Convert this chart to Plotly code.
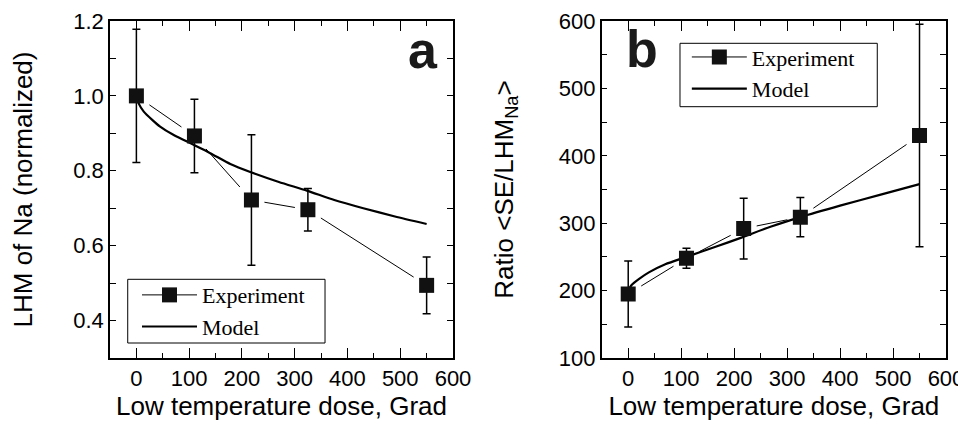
import plotly.graph_objects as go
from plotly.subplots import make_subplots

# panel a: normalized LHM of Na
dose = [0, 110, 218, 325, 550]
lhm_exp = [1.0, 0.893, 0.722, 0.696, 0.494]
lhm_err = [0.178, 0.098, 0.174, 0.057, 0.076]
lhm_model_x = [0, 5, 14, 30, 45, 70, 96, 140, 178, 217, 270, 323, 375, 430, 490, 550]
lhm_model_y = [1.0, 0.978, 0.958, 0.936, 0.918, 0.896, 0.878, 0.847, 0.818, 0.796,
               0.77, 0.747, 0.722, 0.700, 0.678, 0.658]

# panel b: ratio <SE/LHM_Na>
ratio_exp = [195, 248, 292, 309, 430]
ratio_err = [49, 15, 45, 29, 165]
ratio_model_x = [0, 6, 20, 39, 70, 110, 165, 215, 270, 325, 400, 475, 550]
ratio_model_y = [200, 208, 217, 227, 239, 250, 265, 279, 295, 309, 326, 342, 358]

fig = make_subplots(rows=1, cols=2)


def add_panel(col, x, y, err, mx, my, legend):
    # thin connecting line (legend entry uses it)
    fig.add_trace(go.Scatter(
        x=x, y=y, mode="lines+markers", name="Experiment", legend=legend,
        line=dict(color="black", width=1),
        marker=dict(symbol="square", size=15, color="#111"),
    ), row=1, col=col)
    # white squares leave a small gap around the markers
    fig.add_trace(go.Scatter(
        x=x, y=y, mode="markers", showlegend=False, hoverinfo="skip",
        marker=dict(symbol="square", size=26, color="white"),
    ), row=1, col=col)
    fig.add_trace(go.Scatter(
        x=mx, y=my, mode="lines", name="Model", legend=legend,
        line=dict(color="black", width=2.2, shape="spline", smoothing=0.6),
    ), row=1, col=col)
    fig.add_trace(go.Scatter(
        x=x, y=y, mode="markers", showlegend=False,
        marker=dict(symbol="square", size=15, color="#111"),
        error_y=dict(type="data", array=err, color="black", thickness=1.5, width=4),
    ), row=1, col=col)


add_panel(1, dose, lhm_exp, lhm_err, lhm_model_x, lhm_model_y, "legend")
add_panel(2, dose, ratio_exp, ratio_err, ratio_model_x, ratio_model_y, "legend2")

tick_font = dict(family="Liberation Sans, Arial", size=22, color="black")
title_font = dict(family="Liberation Sans, Arial", size=26, color="black")
axis_common = dict(
    showline=True, linecolor="black", linewidth=1.5, mirror="ticks",
    ticks="inside", tickcolor="black", showgrid=False, zeroline=False,
    tickfont=tick_font, automargin=False,
)

fig.update_xaxes(
    range=[-50, 600], dtick=100, ticklen=10, tickwidth=1.2,
    minor=dict(ticks="inside", dtick=50, ticklen=5, tickcolor="black"),
    title=dict(text="Low temperature dose, Grad", font=title_font, standoff=2),
    **axis_common,
)
fig.update_xaxes(domain=[0.0, 0.4103], row=1, col=1)
fig.update_xaxes(domain=[0.5882, 1.0], row=1, col=2)

fig.update_yaxes(
    range=[0.3, 1.2], dtick=0.2, tickformat=".1f", ticklen=6, tickwidth=1.2,
    minor=dict(ticks="inside", dtick=0.1, ticklen=6, tickcolor="black"),
    title=dict(text="LHM of Na (normalized)", font=title_font, standoff=40),
    row=1, col=1, **axis_common,
)
fig.update_yaxes(
    range=[100, 600], dtick=100, ticklen=6, tickwidth=1.2,
    minor=dict(ticks="inside", dtick=50, ticklen=6, tickcolor="black"),
    title=dict(text="Ratio &lt;SE/LHM<sub>Na</sub>&gt;", font=title_font, standoff=38),
    row=1, col=2, **axis_common,
)

# legends without their own frame; the frame is drawn as a shape so it can be sized
legend_style = dict(
    bgcolor="rgba(0,0,0,0)", borderwidth=0,
    font=dict(family="Liberation Serif, Times New Roman", size=22, color="black"),
    itemwidth=55, tracegroupgap=0, xanchor="left", yanchor="top",
)
fig.update_layout(
    legend=dict(x=0.0323, y=0.249, **legend_style),
    legend2=dict(x=0.690, y=0.955, **legend_style),
)
for x0, x1, y0, y1 in [(0.0212, 0.2572, 0.0445, 0.2335), (0.6818, 0.9178, 0.7457, 0.9338)]:
    fig.add_shape(type="rect", xref="paper", yref="paper", x0=x0, x1=x1, y0=y0, y1=y1,
                  line=dict(color="black", width=1), fillcolor="white", layer="above")

label_font = dict(family="Liberation Sans, Arial", size=52, color="#1a1a1a")
fig.add_annotation(text="<b>a</b>", x=0.3744, y=0.915, xref="paper", yref="paper",
                   showarrow=False, font=label_font, xanchor="center", yanchor="middle")
fig.add_annotation(text="<b>b</b>", x=0.636, y=0.916, xref="paper", yref="paper",
                   showarrow=False, font=label_font, xanchor="center", yanchor="middle")

# the page adds an 8px body margin, so the figure is a little smaller than the window
fig.update_layout(
    width=958, height=419,
    margin=dict(l=102, r=20, t=13, b=69),
    plot_bgcolor="white", paper_bgcolor="white",
)

fig.write_html("out.html")
